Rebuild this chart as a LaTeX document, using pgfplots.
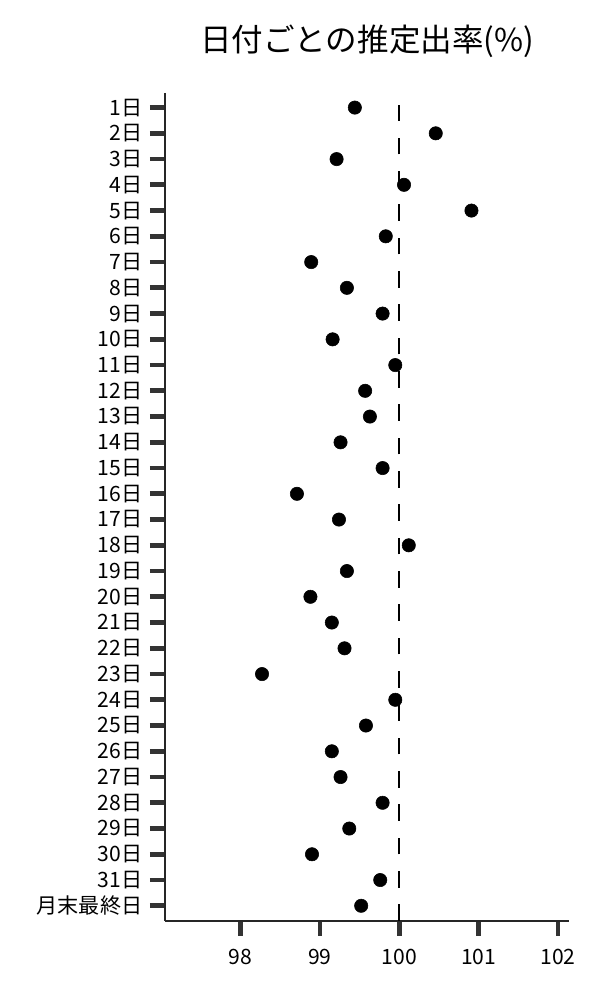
\documentclass[border=0pt]{standalone}
\usepackage{pgfplots}
\pgfplotsset{compat=1.18}
\usepackage{fontspec}
\setmainfont{Noto Sans CJK JP}
\definecolor{tickgray}{HTML}{333333}

\begin{document}
\begin{tikzpicture}
\useasboundingbox (-118.8pt,-56.9pt) rectangle (313.2pt,663.1pt);
\begin{axis}[
  at={(0,0)}, anchor=south west,
  scale only axis,
  width=290.9pt, height=596.2pt,
  xmin=97.047, xmax=102.14,
  ymin=-0.57, ymax=31.59,
  y dir=reverse,
  axis x line*=bottom, axis y line*=left,
  axis line style={black!85, line width=0.9pt, -},
  xtick={98,99,100,101,102},
  ytick={0,1,...,31},
  yticklabels={1日,2日,3日,4日,5日,6日,7日,8日,9日,10日,11日,12日,13日,14日,15日,16日,17日,18日,19日,20日,21日,22日,23日,24日,25日,26日,27日,28日,29日,30日,31日,月末最終日},
  tick align=outside,
  major tick length=10.8pt,
  every tick/.style={tickgray, line width=3.4pt},
  tick label style={font=\fontsize{15.2}{17}\selectfont, black},
  /pgf/number format/assume math mode=true,
  xticklabel style={yshift=-6pt},
  yticklabel style={xshift=-2pt},
  title={日付ごとの推定出率(\%)},
  title style={font=\fontsize{22.7}{26}\selectfont, at={(0.5,1)}, anchor=center, yshift=31pt},
  clip=false,
]
\addplot [black, line width=1.5pt, dash pattern=on 12pt off 12pt]
  coordinates {(100,31.59) (100,-0.09)};
\addplot [only marks, mark=*, mark size=4.8pt, mark options={fill=black, draw=black}]
  coordinates {
(99.44,0) (100.46,1) (99.21,2) (100.06,3) (100.91,4) (99.83,5) (98.89,6) (99.34,7)
(99.79,8) (99.16,9) (99.95,10) (99.57,11) (99.63,12) (99.26,13) (99.79,14) (98.71,15)
(99.24,16) (100.12,17) (99.34,18) (98.88,19) (99.15,20) (99.31,21) (98.27,22) (99.95,23)
(99.58,24) (99.15,25) (99.26,26) (99.79,27) (99.37,28) (98.90,29) (99.76,30) (99.52,31)
};
\end{axis}
\end{tikzpicture}
\end{document}
